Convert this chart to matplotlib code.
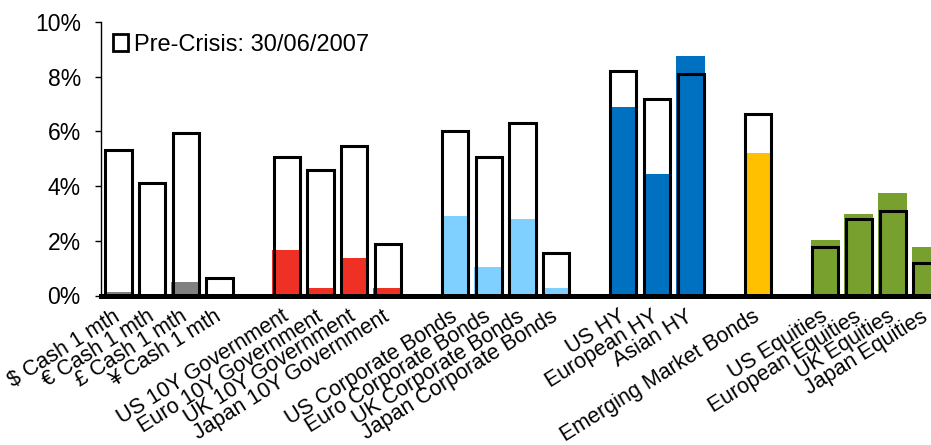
import numpy as np
import matplotlib.pyplot as plt
from matplotlib.patches import Patch

plt.rcParams['font.family'] = ['Liberation Sans', 'DejaVu Sans']

# asset classes, grouped with an empty slot between groups
groups = [
    ['$ Cash 1 mth', '€ Cash 1 mth', '£ Cash 1 mth', '¥ Cash 1 mth'],
    ['US 10Y Government', 'Euro 10Y Government', 'UK 10Y Government', 'Japan 10Y Government'],
    ['US Corporate Bonds', 'Euro Corporate Bonds', 'UK Corporate Bonds', 'Japan Corporate Bonds'],
    ['US HY', 'European HY', 'Asian HY'],
    ['Emerging Market Bonds'],
    ['US Equities', 'European Equities', 'UK Equities', 'Japan Equities'],
]

# yields (%) pre-crisis (30/06/2007)
pre_crisis = [
    [5.33, 4.11, 5.94, 0.63],
    [5.05, 4.58, 5.47, 1.87],
    [6.00, 5.07, 6.30, 1.55],
    [8.20, 7.18, 8.11],
    [6.63],
    [1.77, 2.80, 3.10, 1.19],
]

# yields (%) now
current = [
    [0.12, 0.02, 0.48, 0.0],
    [1.66, 0.27, 1.37, 0.27],
    [2.90, 1.04, 2.79, 0.27],
    [6.88, 4.43, 8.75],
    [5.20],
    [2.03, 2.98, 3.75, 1.77],
]

group_colors = ['#808080', '#EE3124', '#80D0FF', '#0070C0', '#FFC000', '#77A02F']

labels, pos, pre, cur, cols = [], [], [], [], []
x = 0
for names, p, c, col in zip(groups, pre_crisis, current, group_colors):
    for n, pv, cv in zip(names, p, c):
        labels.append(n)
        pos.append(x)
        pre.append(pv)
        cur.append(cv)
        cols.append(col)
        x += 1
    x += 1
pos = np.array(pos)

fig = plt.figure(figsize=(9.31, 4.45), dpi=100)
ax = fig.add_axes([101 / 931, (445 - 295.5) / 445, 1 - 101 / 931, 273.5 / 445])

ax.bar(pos, cur, width=0.86, color=cols, zorder=2)
ax.bar(pos, pre, width=0.78, facecolor='none', edgecolor='black', linewidth=2.2,
       zorder=3, label='Pre-Crisis: 30/06/2007')

ax.set_xlim(-0.52, pos[-1] + 0.14)
ax.set_ylim(0, 10)
ax.set_yticks(np.arange(0, 11, 2))
ax.set_yticklabels(['%d%%' % v for v in np.arange(0, 11, 2)], fontsize=16.5)
ax.tick_params(axis='y', length=4.5, width=1, pad=10, direction='out')

ax.set_xticks(pos)
ax.set_xticklabels(labels, rotation=32, ha='right', va='center', rotation_mode='anchor', fontsize=15.5)
ax.tick_params(axis='x', length=0, pad=14)

for s in ['top', 'right']:
    ax.spines[s].set_visible(False)
ax.spines['bottom'].set_linewidth(3.6)
ax.spines['bottom'].set_zorder(4)
ax.spines['left'].set_linewidth(1)

handle = Patch(facecolor='white', edgecolor='black', linewidth=2)
ax.legend([handle], ['Pre-Crisis: 30/06/2007'], loc='upper left', frameon=False,
          fontsize=17, handlelength=0.65, handleheight=0.75, handletextpad=0.25,
          borderaxespad=0.2, borderpad=0.3)

fig.savefig('out.png', dpi=100)
